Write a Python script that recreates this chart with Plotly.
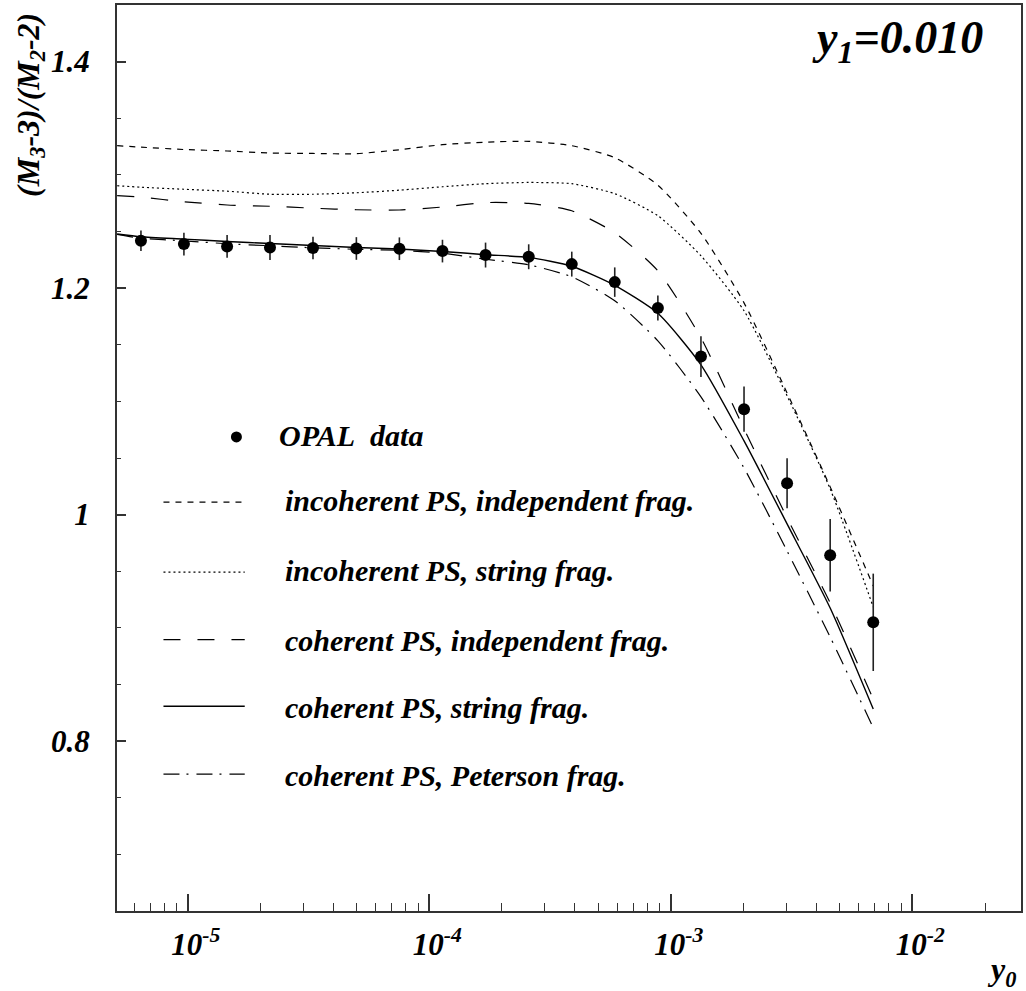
import plotly.graph_objects as go

# Measured OPAL points: jet resolution y0, ratio (M3-3)/(M2-2), errors
y0_data = [6.40e-6, 9.64e-6, 1.455e-5, 2.19e-5, 3.30e-5, 4.99e-5, 7.52e-5, 1.134e-4,
           1.71e-4, 2.58e-4, 3.89e-4, 5.86e-4, 8.84e-4, 1.333e-3, 2.01e-3, 3.03e-3,
           4.57e-3, 6.89e-3]
ratio_data = [1.2418, 1.2389, 1.2368, 1.2359, 1.2354, 1.2350, 1.2348, 1.2327, 1.2292,
              1.2277, 1.2212, 1.2053, 1.1824, 1.1396, 1.0931, 1.0277, 0.9641, 0.9049]
ratio_err = [0.009, 0.010, 0.010, 0.011, 0.010, 0.010, 0.010, 0.010, 0.011,
             0.011, 0.011, 0.013, 0.011, 0.018, 0.020, 0.022, 0.032, 0.043]

# Monte Carlo model curves sampled on a common y0 grid
y0_model = [5.1e-6] + y0_data
incoh_indep = [1.3258, 1.3245, 1.3224, 1.3211, 1.3193, 1.3189, 1.3187, 1.3222, 1.3267, 1.3289,
               1.3296, 1.3258, 1.3152, 1.2909, 1.2484, 1.1870, 1.1075, 1.0245, 0.9370]
incoh_string = [1.2904, 1.2891, 1.2873, 1.2856, 1.2829, 1.2829, 1.2842, 1.2865, 1.2895, 1.2922,
                1.2933, 1.2922, 1.2834, 1.2639, 1.2286, 1.1800, 1.1049, 1.0227, 0.9184]
coh_indep = [1.2816, 1.2803, 1.2763, 1.2734, 1.2723, 1.2706, 1.2692, 1.2690, 1.2716, 1.2755,
             1.2748, 1.2683, 1.2489, 1.2153, 1.1561, 1.0757, 0.9971, 0.9220, 0.8371]
coh_string = [1.2478, 1.2454, 1.2433, 1.2412, 1.2394, 1.2377, 1.2359, 1.2345, 1.2324, 1.2295,
              1.2271, 1.2193, 1.2025, 1.1778, 1.1323, 1.0651, 0.9918, 0.9175, 0.8283]
coh_peterson = [1.2475, 1.2440, 1.2418, 1.2392, 1.2374, 1.2356, 1.2343, 1.2334, 1.2308, 1.2255,
                1.2206, 1.2100, 1.1888, 1.1535, 1.1040, 1.0412, 0.9679, 0.8919, 0.8118]

legend_labels = ["incoherent PS, independent frag.", "incoherent PS, string frag.",
                 "coherent PS, independent frag.", "coherent PS, string frag.",
                 "coherent PS, Peterson frag."]

x_ticks = [1e-5, 1e-4, 1e-3, 1e-2]
x_ticklabels = ["10<sup>-5</sup>", "10<sup>-4</sup>", "10<sup>-3</sup>", "10<sup>-2</sup>"]
y_ticks = [0.8, 1.0, 1.2, 1.4]
y_ticklabels = ["0.8", "1", "1.2", "1.4"]

FONT = "Liberation Serif"


def bi(text):
    # bold italic Times-style text
    return "<b><i>" + text + "</i></b>"


def serif(size):
    return dict(family=FONT, size=size, color="black")


styles = [
    dict(dash="6px,6px", width=1.2),
    dict(dash="2px,3px", width=1.2),
    dict(dash="17px,17px", width=1.2),
    dict(dash="solid", width=1.4),
    dict(dash="16px,7px,2px,8px", width=1.2),
]
curves = [incoh_indep, incoh_string, coh_indep, coh_string, coh_peterson]

fig = go.Figure()
for vals, st, name in zip(curves, styles, legend_labels):
    fig.add_trace(go.Scatter(
        x=y0_model, y=vals, mode="lines", name=name,
        line=dict(color="black", width=st["width"], dash=st["dash"],
                  shape="spline", smoothing=0.6),
        showlegend=False, hoverinfo="skip"))

fig.add_trace(go.Scatter(
    x=y0_data, y=ratio_data, mode="markers", name="OPAL data",
    marker=dict(color="black", size=12, symbol="circle"),
    error_y=dict(type="data", array=ratio_err, visible=True,
                 color="#222222", thickness=1.6, width=0),
    showlegend=False))

# Legend drawn inside the frame: line samples + labels
x0p, x1p = 0.0514, 0.1413
row_y = [0.4513, 0.3741, 0.2996, 0.2260, 0.1510]
text_y = [0.4531, 0.3760, 0.2988, 0.2249, 0.1500]
shapes = []
for ry, st in zip(row_y, styles):
    shapes.append(dict(type="line", xref="paper", yref="paper",
                       x0=x0p, x1=x1p, y0=ry, y1=ry,
                       line=dict(color="black", width=st["width"], dash=st["dash"])))
shapes.append(dict(type="circle", xref="paper", yref="paper",
                   xsizemode="pixel", ysizemode="pixel",
                   xanchor=0.1321, yanchor=0.5232,
                   x0=-5.5, x1=5.5, y0=-5.5, y1=5.5,
                   fillcolor="black", line=dict(color="black", width=0)))

annotations = [dict(text=bi("OPAL\u00a0 data"), xref="paper", yref="paper",
                    x=0.1774, y=0.5248, xanchor="left", yanchor="middle",
                    showarrow=False, font=serif(30))]
for ty, lab in zip(text_y, legend_labels):
    annotations.append(dict(text=bi(lab), xref="paper", yref="paper", x=0.1836, y=ty,
                            xanchor="left", yanchor="middle", showarrow=False,
                            font=serif(30)))

annotations.append(dict(text=bi("y<sub>1</sub>=0.010"), xref="paper", yref="paper",
                        x=0.8631, y=0.9603, xanchor="center", yanchor="middle",
                        showarrow=False, font=serif(46)))
annotations.append(dict(text=bi("(M<sub>3</sub>-3)/(M<sub>2</sub>-2)"), xref="paper", yref="paper",
                        x=-0.0960, y=0.8900, xanchor="center", yanchor="middle",
                        textangle=-90, showarrow=False, font=serif(32)))
annotations.append(dict(text=bi("y<sub>0</sub>"), xref="paper", yref="paper",
                        x=0.9967, y=-0.0673, xanchor="right", yanchor="middle",
                        showarrow=False, font=serif(32)))

x_minor = [m * 10 ** e for e in range(-6, -1) for m in range(2, 10)]
y_minor = [0.65 + 0.05 * i for i in range(16)]

fig.update_layout(
    width=1026, height=991,
    margin=dict(l=117, r=3, t=4, b=80),
    paper_bgcolor="white", plot_bgcolor="white",
    font=dict(family=FONT),
    shapes=shapes, annotations=annotations,
    xaxis=dict(type="log", range=[-5.293, -1.55],
               tickmode="array", tickvals=x_ticks,
               ticktext=[bi(t) for t in x_ticklabels],
               ticks="inside", ticklen=17, tickwidth=1.5, tickcolor="#333",
               showline=True, linecolor="#333", linewidth=2, mirror=True,
               showgrid=False, zeroline=False,
               ticklabelstandoff=5, ticklabelshift=8,
               tickfont=serif(31),
               minor=dict(tickmode="array", tickvals=x_minor, ticks="inside",
                          ticklen=8, tickwidth=1.2, tickcolor="#333", showgrid=False)),
    yaxis=dict(range=[0.65, 1.45],
               tickmode="array", tickvals=y_ticks,
               ticktext=[bi(t) for t in y_ticklabels],
               ticks="inside", ticklen=9, tickwidth=1.5, tickcolor="#333",
               showline=True, linecolor="#333", linewidth=2, mirror=True,
               showgrid=False, zeroline=False,
               ticklabelstandoff=19,
               tickfont=serif(31),
               minor=dict(tickmode="array", tickvals=y_minor, ticks="inside",
                          ticklen=4, tickwidth=1.2, tickcolor="#333", showgrid=False)),
)

fig.write_html("out.html")
